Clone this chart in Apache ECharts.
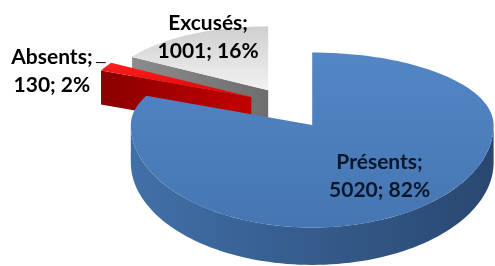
<!DOCTYPE html>
<html>
<head>
<meta charset="utf-8">
<script src="https://cdn.jsdelivr.net/npm/echarts@6/dist/echarts.min.js"></script>
<style>
  html, body { margin: 0; padding: 0; background: #fff; }
  #chart { width: 495px; height: 266px; }
</style>
</head>
<body>
<div id="chart"></div>
<script>
const categories = ['Présents', 'Absents', 'Excusés']
const counts = [5020, 130, 1001]

// top face gradient, side face gradient (per slice)
const topColors = [['#5386c5', '#4576b2'], ['#ff2020', '#e80000'], ['#cfcfcf', '#f2f2f2']]
const sideColors = [['#4170a8', '#294770'], ['#8a0000', '#c20000'], ['#8c8c8c', '#6e6e6e']]
const labelColors = ['#0b1526', '#000', '#000']
// label placement along the mid angle, as a fraction of the radius (x, y)
const labelR = [[0.68, 0.59], [1.37, 0.84], [0.77, 0.96]]

const pie = { cx: 289, cy: 105, a: 170, bBack: 68, bFront: 96, depth: 35, explode: 0.25, persp: 0.3 }

const total = counts.reduce((s, v) => s + v, 0)
const rad = d => d * Math.PI / 180

let acc = 0
const slices = counts.map(v => {
  const t1 = acc / total * 360
  acc += v
  const t2 = acc / total * 360
  const mid = (t1 + t2) / 2
  const c = Math.cos(rad(mid))
  const bMid = c > 0 ? pie.bBack : pie.bFront
  const s = 1 / (1 + pie.persp * pie.explode * c)
  return {
    t1, t2, mid, s,
    ox: pie.cx + pie.explode * pie.a * Math.sin(rad(mid)),
    oy: pie.cy - pie.explode * bMid * c
  }
})

function rim(sl, t, r) {
  const c = Math.cos(rad(t))
  const b = c > 0 ? pie.bBack : pie.bFront
  return [sl.ox + r * sl.s * pie.a * Math.sin(rad(t)), sl.oy - r * sl.s * b * c]
}

function arc(sl, from, to, dy) {
  const pts = []
  const n = Math.max(2, Math.ceil(Math.abs(to - from) / 2))
  for (let k = 0; k <= n; k++) {
    const p = rim(sl, from + (to - from) * k / n, 1)
    pts.push([p[0], p[1] + dy])
  }
  return pts
}

function grad(cols, vertical) {
  return new echarts.graphic.LinearGradient(0, 0, vertical ? 0 : 1, vertical ? 1 : 0, [
    { offset: 0, color: cols[0] }, { offset: 1, color: cols[1] }
  ])
}

// back slices first
const order = slices.map((sl, i) => i).sort((p, q) => slices[p].oy - slices[q].oy)

function renderItem(params, api) {
  const i = params.dataIndex
  const sl = slices[i]
  const d = pie.depth * sl.s
  const z = order.indexOf(i) * 10
  const children = []
  const apex = [sl.ox, sl.oy]

  // radial faces that face the viewer
  const radial = []
  if (Math.sin(rad(sl.t1)) < -1e-6) radial.push(sl.t1)
  if (Math.sin(rad(sl.t2)) > 1e-6) radial.push(sl.t2)
  radial.forEach(t => {
    const p = rim(sl, t, 1)
    children.push({
      type: 'polygon', z2: z + 1,
      shape: { points: [apex, p, [p[0], p[1] + d], [apex[0], apex[1] + d]] },
      style: { fill: grad(sideColors[i], false) }
    })
  })

  // outer wall, front part only
  const lo = Math.max(sl.t1, 90), hi = Math.min(sl.t2, 270)
  if (hi > lo) {
    const pts = arc(sl, lo, hi, 0).concat(arc(sl, hi, lo, d))
    children.push({
      type: 'polygon', z2: z + 2,
      shape: { points: pts },
      style: { fill: grad(sideColors[i], false) }
    })
  }

  // top face
  children.push({
    type: 'polygon', z2: z + 3,
    shape: { points: [apex].concat(arc(sl, sl.t1, sl.t2, 0)) },
    style: { fill: grad(topColors[i], true) }
  })

  // label
  const pct = Math.round(api.value(0) / total * 100)
  const lx = sl.ox + labelR[i][0] * sl.s * pie.a * Math.sin(rad(sl.mid))
  const c = Math.cos(rad(sl.mid))
  const ly = sl.oy - labelR[i][1] * sl.s * (c > 0 ? pie.bBack : pie.bFront) * c
  children.push({
    type: 'text', z2: 100,
    style: {
      text: categories[i] + ';\n' + api.value(0) + '; ' + pct + '%',
      x: lx, y: ly,
      align: 'center', verticalAlign: 'middle',
      font: 'bold 21px Lato', lineHeight: 28,
      fill: labelColors[i]
    }
  })
  if (labelR[i][0] > 1) {
    const p = rim(sl, sl.mid, 1)
    children.push({
      type: 'line', z2: 100,
      shape: { x1: lx + 44, y1: ly - 9, x2: p[0], y2: p[1] - 4 },
      style: { stroke: '#000', lineWidth: 1 }
    })
  }

  return { type: 'group', children }
}

const chart = echarts.init(document.getElementById('chart'))
chart.setOption({
  backgroundColor: '#fff',
  animation: false,
  series: [{
    type: 'custom',
    coordinateSystem: 'none',
    renderItem,
    data: counts
  }]
})
</script>
</body>
</html>
